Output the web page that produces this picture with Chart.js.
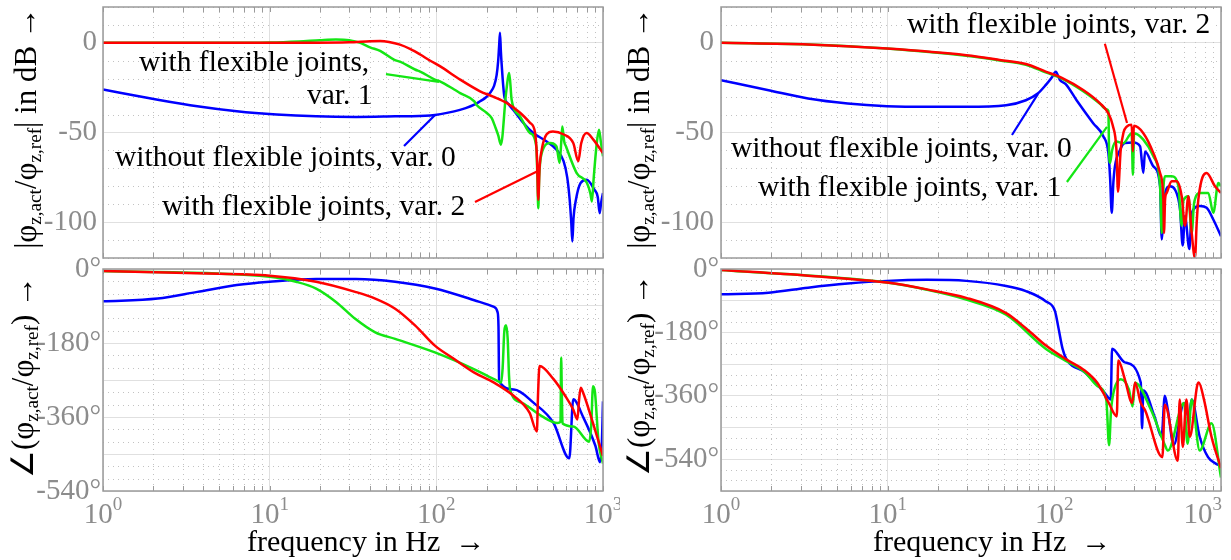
<!DOCTYPE html>
<html>
<head>
<meta charset="utf-8">
<script src="https://cdn.jsdelivr.net/npm/chart.js@4.4.1/dist/chart.umd.min.js"></script>
<style>
  body { margin: 0; background: #fff; }
  #page { position: relative; width: 1231px; height: 560px; overflow: hidden; font-family: 'Liberation Serif', 'Times New Roman', serif; }
  .panel { position: absolute; }
  .txt { position: absolute; white-space: nowrap; line-height: 1; color: #000; }
  .ann { font-size: 29.5px; }
  .ytitle { position: absolute; white-space: nowrap; line-height: 1; font-size: 31px; transform: translate(-50%, -50%) rotate(-90deg); }
  sub { font-size: 0.62em; vertical-align: -0.3em; line-height: 0; }
</style>
</head>
<body>
<div id="page">
  <div class="panel" style="left:0;top:0"><canvas id="tl" width="620" height="262"></canvas></div>
  <div class="panel" style="left:620px;top:0"><canvas id="tr" width="611" height="262"></canvas></div>
  <div class="panel" style="left:0;top:250px"><canvas id="bl" width="620" height="310"></canvas></div>
  <div class="panel" style="left:620px;top:250px"><canvas id="br" width="611" height="310"></canvas></div>

  <div class="ytitle" style="left:25px;top:128px">|φ<sub>z,act</sub>/φ<sub>z,ref</sub>| in dB →</div>
  <div class="ytitle" style="left:638px;top:128px">|φ<sub>z,act</sub>/φ<sub>z,ref</sub>| in dB →</div>
  <div class="ytitle" style="left:22px;top:377px">∠(φ<sub>z,act</sub>/φ<sub>z,ref</sub>) →</div>
  <div class="ytitle" style="left:638px;top:375px">∠(φ<sub>z,act</sub>/φ<sub>z,ref</sub>) →</div>

  <div class="txt" style="left:247px;top:526px;font-size:30px">frequency in Hz&nbsp; →</div>
  <div class="txt" style="left:873px;top:526px;font-size:30px">frequency in Hz&nbsp; →</div>

  <div class="txt ann" style="left:139px;top:47px">with flexible joints,</div>
  <div class="txt ann" style="left:307px;top:80px">var. 1</div>
  <div class="txt ann" style="left:115px;top:142px">without flexible joints, var. 0</div>
  <div class="txt ann" style="left:162px;top:191px">with flexible joints, var. 2</div>

  <div class="txt ann" style="left:903px;top:9px;background:#fff;padding:0 4px">with flexible joints, var. 2</div>
  <div class="txt ann" style="left:731px;top:133px">without flexible joints, var. 0</div>
  <div class="txt ann" style="left:758px;top:172px">with flexible joints, var. 1</div>
</div>
<script>
// magnitude, left system
const magLeftBlueHz = [1, 2.13, 3.68, 6.35, 11, 19, 33, 56.6, 92, 128, 150, 169, 183, 198, 210, 222, 230, 235, 238, 241, 244, 247, 252, 256, 270, 289, 333, 382, 459, 526, 580, 610, 631, 645, 655, 665, 688, 733, 798, 888, 930, 955, 975, 1000];
const magLeftBlueDb = [-26, -31.7, -35.4, -38.2, -40, -41, -41.3, -41, -40.5, -38.2, -36.4, -34.5, -32.6, -30.5, -27.9, -24, -18, -10, -2, 5.6, -5, -13, -24, -30, -34, -37.3, -44.7, -50.3, -55, -59.6, -66, -75, -87.5, -100, -110.8, -98, -87.5, -78.2, -76.3, -81.9, -86, -95, -89, -83.8];
const magLeftGreenHz = [1, 5, 10, 15, 20, 25, 30, 35, 40, 46, 56, 60.5, 75, 80, 98, 105, 128, 139, 169, 174, 200, 215, 225, 235, 244, 262, 274, 283, 318, 365, 398, 404, 409, 414, 429, 482, 526, 549, 562, 570, 585, 600, 695, 800, 840, 858, 880, 920, 946, 970, 1000];
const magLeftGreenDb = [0, 0, 0.2, 0.8, 1.5, 1.9, 1.5, 0, -2.5, -4.5, -9.5, -10.5, -15, -16, -20.5, -21.5, -26, -28, -32.6, -34.5, -39, -42, -46.6, -51.5, -56.8, -28, -16.8, -31.7, -41, -50.3, -57.8, -75, -92.3, -75, -61.5, -55.9, -57.8, -67, -55, -46.6, -55, -57.8, -72.6, -78, -84, -88.5, -75, -55, -48.4, -55, -63.3];
const magLeftRedHz = [1, 10, 30, 40, 46, 52, 60.5, 70, 80, 92, 105, 139, 183, 219, 264, 318, 365, 391, 402, 409, 416, 429, 459, 501, 578, 663, 711, 740, 798, 875, 1000];
const magLeftRedDb = [0, 0, 0.3, 0.9, 1, 0.5, -1, -3.5, -6.5, -10, -13, -20.5, -27, -30, -33.5, -39, -44.6, -50, -65, -87.5, -70, -59.6, -51, -49.4, -51, -55.9, -66, -56, -50.3, -54, -61.5];

// phase, left system
const phaseLeftBlueHz = [1, 2.13, 3.68, 6.35, 10, 19, 33, 56.6, 98, 169, 222, 233, 236, 238, 292, 384, 505, 628, 663, 760, 900, 960, 985, 1000];
const phaseLeftBlueDeg = [-78.5, -72, -55.6, -39, -31, -24.5, -24.5, -31, -47.5, -76, -92.4, -105, -140, -272, -293, -325.6, -374.6, -460.5, -317, -360, -430, -470, -420, -322];
const phaseLeftGreenHz = [1, 10, 14.4, 19, 25, 32.6, 43, 56.6, 98, 169, 232, 245, 250, 256, 262, 268, 273, 278, 326, 429, 533, 556, 561, 566, 572, 663, 826, 850, 871, 895, 940, 1000];
const phaseLeftGreenDeg = [-5, -18.8, -31, -47.5, -80, -121, -154, -170, -203, -244, -272, -276, -240, -150, -137, -170, -260, -296, -325.6, -358, -374.6, -372, -215, -300, -376, -383, -420, -380, -285, -300, -420, -473];
const phaseLeftRedHz = [1, 3.68, 10, 19, 32.6, 43, 56.6, 74.5, 98, 128, 169, 222, 292, 363, 401, 408, 416, 505, 594, 663, 702, 718, 735, 760, 871, 1000];
const phaseLeftRedDeg = [-5, -10.6, -16.4, -31, -55.6, -72, -96.5, -137, -186.5, -219, -252, -276.5, -309, -350, -395, -300, -236, -268, -309, -342, -366, -320, -289, -301, -375, -455];

// magnitude, right system
const magRightBlueHz = [1, 1.93, 3.33, 5.76, 9.9, 17.2, 29.6, 51.4, 67.5, 79.5, 88.7, 97, 102, 108, 117, 136, 171, 197, 211, 216, 221, 226, 231, 248, 265, 298, 327, 342, 350, 393, 431, 441, 455, 494, 530, 568, 589, 608, 646, 667, 748, 820, 899, 1000];
const magRightBlueDb = [-20.8, -26.4, -31, -33.8, -35.3, -35.7, -35.7, -34.8, -32, -28.3, -23.6, -19, -16.1, -20.7, -23, -32, -44.8, -52.2, -61.5, -75, -94.8, -78, -68.9, -59.6, -55.9, -55.6, -57.8, -72.6, -60.6, -68.9, -80, -109.6, -87.4, -80, -81.9, -93, -113, -96.7, -115, -94.8, -91, -92, -98.5, -107.8];
const magRightGreenHz = [1, 3.33, 9.9, 29.6, 47, 67.5, 88.7, 111, 149, 188, 205, 211, 213, 216, 222, 235, 259, 291, 296, 301, 342, 393, 431, 441, 452, 461, 506, 555, 581, 595, 637, 667, 690, 748, 839, 899, 964, 1000];
const magRightGreenDb = [0, -0.9, -3.2, -7.2, -9.8, -12.2, -16.5, -20, -27, -34, -37, -38, -60, -67, -60, -55, -56, -50.4, -73.5, -50.4, -54, -63.3, -80, -106, -80, -74.4, -74.4, -80, -102, -88, -85.6, -106, -89.2, -83.7, -83.7, -94.8, -78.1, -80];
const magRightRedHz = [1, 3.33, 9.9, 29.6, 47, 67.5, 88.7, 111, 149, 188, 211, 224, 236, 241, 250, 260, 272, 291, 296, 300, 342, 393, 431, 451, 455, 462, 472, 506, 542, 581, 608, 637, 667, 698, 715, 731, 820, 920, 1000];
const magRightRedDb = [0, -0.9, -3.2, -6.9, -9.5, -11.8, -16, -19.5, -26.3, -33.7, -39.3, -46, -60, -83, -60, -50, -46.7, -45.7, -60.5, -46.3, -50.4, -61.5, -72.6, -87.4, -106, -87, -83.7, -77.2, -77.2, -85.6, -102, -85.6, -106, -120, -100, -87.4, -72.6, -80, -83.7];

// phase, right system
const phaseRightBlueHz = [1, 1.93, 3.33, 5.76, 9.9, 17.2, 29.6, 51.4, 67.5, 88.7, 101, 106, 112, 118, 153, 200, 218, 222, 265, 330, 336, 342, 400, 440, 460, 480, 520, 600, 640, 667, 745, 836, 935, 1000];
const phaseRightBlueDeg = [-72, -67.4, -53, -41.4, -33.7, -30.8, -33.7, -48, -62.6, -91.4, -120, -168.5, -226, -255, -293.6, -351, -370, -226, -265, -322, -452, -345, -420, -476, -360, -400, -500, -380, -420, -370, -476, -534, -553, -558];
const phaseRightGreenHz = [1, 9.9, 17.2, 29.6, 51.4, 88.7, 116.6, 153, 181, 205, 213, 219, 228, 250, 280, 295, 305, 380, 457, 480, 600, 630, 667, 745, 877, 1000];
const phaseRightGreenDeg = [-3, -38.5, -59, -86.6, -130, -226, -260, -293.6, -332, -372, -500, -400, -345, -313, -342, -390, -322.5, -399.5, -495.7, -515, -380, -495.7, -370.6, -515, -438, -592];
const phaseRightRedHz = [1, 3.33, 9.9, 17.2, 29.6, 51.4, 67.5, 88.7, 116.6, 153, 181, 212, 237, 242, 265, 293, 305, 330, 350, 445, 460, 551, 565, 590, 620, 650, 720, 735, 790, 877, 1000];
const phaseRightRedDeg = [-3, -19, -38.5, -57.8, -81.8, -125, -168, -216.6, -255, -288.8, -322.5, -380, -418, -260, -313, -380, -322, -380, -400, -534, -385, -544, -370, -505, -370, -476, -330, -322, -370, -476, -565];

// tick labels
const magLabels = [0, -50, -100];
const phaseLabels = [0, -180, -360, -540];
const decadeExps = [0, 1, 2, 3];

// leader lines from the notes to the curves (data coordinates)
const blue = '#0000ff', green = '#14e614', red = '#ff0000';
const leadersTopLeft = [
  { color: green, from: [49.9, -17.4], to: [103.7, -21.8] },
  { color: blue, from: [64, -57.5], to: [98.2, -40.2] },
  { color: red, from: [170.6, -88.8], to: [407, -71.5] }
];
const leadersTopRight = [
  { color: red, from: [201, -0.5], to: [273, -44.7] },
  { color: blue, from: [55.7, -51.4], to: [79.8, -28.5] },
  { color: green, from: [119, -77.6], to: [207, -46.9] }
];

const serif = "'Liberation Serif', 'Times New Roman', serif";
const tickGray = '#8c8c8c';

const xTicks = [];
[1, 10, 100].forEach(d => { for (let k = 1; k < 10; k++) xTicks.push(k * d); });
xTicks.push(1000);

function stepTicks(lo, hi, step) {
  const out = [];
  for (let v = lo; v <= hi; v += step) out.push(v);
  return out;
}

function isDecade(v) {
  const l = Math.log10(v);
  return Math.abs(l - Math.round(l)) < 1e-9;
}

const minorGrid = {
  id: 'minorGrid',
  beforeDatasetsDraw(chart, args, opts) {
    const { ctx, chartArea: a } = chart;
    const x = chart.scales.x, y = chart.scales.y;
    ctx.save();
    ctx.strokeStyle = '#c2c2c2';
    ctx.lineWidth = 1;
    ctx.setLineDash([1, 4]);
    x.ticks.forEach(t => {
      if (isDecade(t.value)) return;
      const px = Math.round(x.getPixelForValue(t.value)) + 0.5;
      ctx.beginPath(); ctx.moveTo(px, a.top); ctx.lineTo(px, a.bottom); ctx.stroke();
    });
    y.ticks.forEach(t => {
      if (t.value % opts.yMajor === 0) return;
      const py = Math.round(y.getPixelForValue(t.value)) + 0.5;
      ctx.beginPath(); ctx.moveTo(a.left, py); ctx.lineTo(a.right, py); ctx.stroke();
    });
    ctx.restore();
  }
};

const frame = {
  id: 'frame',
  afterDatasetsDraw(chart) {
    const { ctx, chartArea: a } = chart;
    const x = chart.scales.x;
    ctx.save();
    ctx.strokeStyle = '#9a9a9a';
    ctx.lineWidth = 1.5;
    ctx.strokeRect(a.left, a.top, a.right - a.left, a.bottom - a.top);
    ctx.lineWidth = 1;
    x.ticks.forEach(t => {
      const px = Math.round(x.getPixelForValue(t.value)) + 0.5;
      ctx.beginPath();
      ctx.moveTo(px, a.bottom); ctx.lineTo(px, a.bottom - 5);
      ctx.moveTo(px, a.top); ctx.lineTo(px, a.top + 5);
      ctx.stroke();
    });
    ctx.restore();
  }
};

const leaders = {
  id: 'leaders',
  afterDatasetsDraw(chart, args, opts) {
    if (!opts.lines) return;
    const { ctx } = chart;
    const x = chart.scales.x, y = chart.scales.y;
    ctx.save();
    ctx.lineWidth = 2.2;
    opts.lines.forEach(l => {
      ctx.strokeStyle = l.color;
      ctx.beginPath();
      ctx.moveTo(x.getPixelForValue(l.from[0]), y.getPixelForValue(l.from[1]));
      ctx.lineTo(x.getPixelForValue(l.to[0]), y.getPixelForValue(l.to[1]));
      ctx.stroke();
    });
    ctx.restore();
  }
};

const decadeLabels = {
  id: 'decadeLabels',
  afterDraw(chart, args, opts) {
    if (!opts.show) return;
    const { ctx, chartArea: a } = chart;
    const x = chart.scales.x;
    ctx.save();
    ctx.fillStyle = tickGray;
    ctx.textBaseline = 'alphabetic';
    decadeExps.forEach(e => {
      const px = x.getPixelForValue(Math.pow(10, e));
      ctx.font = '29px ' + serif;
      const wb = ctx.measureText('10').width;
      ctx.font = '19px ' + serif;
      const we = ctx.measureText(String(e)).width;
      let left = px - (wb + we) / 2;
      if (opts.maxRight !== undefined) left = Math.min(left, a.right + opts.maxRight - wb - we);
      ctx.font = '29px ' + serif;
      ctx.fillText('10', left, a.bottom + 32);
      ctx.font = '19px ' + serif;
      ctx.fillText(String(e), left + wb, a.bottom + 19);
    });
    ctx.restore();
  }
};

function series(hz, vals, color) {
  return {
    data: hz.map((f, i) => ({ x: f, y: vals[i] })),
    borderColor: color,
    borderWidth: 2.5,
    pointRadius: 0,
    fill: false,
    cubicInterpolationMode: 'monotone'
  };
}

function panel(id, cfg) {
  return new Chart(document.getElementById(id), {
    type: 'line',
    data: { datasets: cfg.datasets },
    options: {
      responsive: false,
      animation: false,
      layout: { padding: cfg.padding },
      plugins: {
        legend: { display: false },
        tooltip: { enabled: false },
        minorGrid: { yMajor: cfg.yMajor },
        leaders: { lines: cfg.leaders },
        decadeLabels: { show: cfg.xLabels, maxRight: cfg.maxRight }
      },
      scales: {
        x: {
          type: 'logarithmic',
          min: 1,
          max: 1000,
          afterBuildTicks: s => { s.ticks = xTicks.map(v => ({ value: v })); },
          ticks: { display: false, callback: () => '' },
          grid: { drawTicks: false, color: c => (c.tick && isDecade(c.tick.value)) ? '#e0e0e0' : 'rgba(0,0,0,0)' },
          border: { display: false },
          afterFit: s => { s.height = cfg.xHeight; s.paddingLeft = 0; s.paddingRight = 0; }
        },
        y: {
          type: 'linear',
          min: cfg.yMin,
          max: cfg.yMax,
          afterBuildTicks: s => { s.ticks = stepTicks(cfg.yMin, cfg.yMax, cfg.yStep).map(v => ({ value: v })); },
          ticks: {
            autoSkip: false,
            padding: cfg.yPad,
            color: tickGray,
            font: { family: serif, size: 29 },
            callback: v => cfg.yLabels.includes(v) ? String(v) + cfg.unit : ''
          },
          grid: { drawTicks: false, color: c => (c.tick && c.tick.value % cfg.yMajor === 0) ? '#e0e0e0' : 'rgba(0,0,0,0)' },
          border: { display: false },
          afterFit: s => { s.width = cfg.yWidth; s.paddingTop = 0; s.paddingBottom = 0; }
        }
      }
    },
    plugins: [minorGrid, frame, leaders, decadeLabels]
  });
}

const magCommon = { yMin: -120, yMax: 20, yStep: 10, yMajor: 50, yLabels: magLabels, unit: '', yPad: 6, xHeight: 0, xLabels: false };

panel('tl', Object.assign({}, magCommon, {
  datasets: [
    series(magLeftRedHz, magLeftRedDb, red),
    series(magLeftGreenHz, magLeftGreenDb, green),
    series(magLeftBlueHz, magLeftBlueDb, blue)
  ],
  padding: { left: 0, right: 17, top: 7, bottom: 4 },
  yWidth: 103,
  leaders: leadersTopLeft
}));

panel('tr', Object.assign({}, magCommon, {
  datasets: [
    series(magRightRedHz, magRightRedDb, red),
    series(magRightGreenHz, magRightGreenDb, green),
    series(magRightBlueHz, magRightBlueDb, blue)
  ],
  padding: { left: 0, right: 10, top: 7, bottom: 4 },
  yWidth: 101,
  yPad: 7,
  leaders: leadersTopRight
}));

panel('bl', {
  datasets: [
    series(phaseLeftRedHz, phaseLeftRedDeg, red),
    series(phaseLeftGreenHz, phaseLeftGreenDeg, green),
    series(phaseLeftBlueHz, phaseLeftBlueDeg, blue)
  ],
  yMin: -540, yMax: 0, yStep: 30, yMajor: 90, yLabels: phaseLabels, unit: '°', yPad: 2,
  padding: { left: 0, right: 17, top: 19, bottom: 0 },
  xHeight: 69, xLabels: true,
  yWidth: 103
});

panel('br', {
  datasets: [
    series(phaseRightRedHz, phaseRightRedDeg, red),
    series(phaseRightGreenHz, phaseRightGreenDeg, green),
    series(phaseRightBlueHz, phaseRightBlueDeg, blue)
  ],
  yMin: -630, yMax: 0, yStep: 30, yMajor: 90, yLabels: phaseLabels, unit: '°', yPad: 2,
  padding: { left: 0, right: 10, top: 19, bottom: 0 },
  xHeight: 69, xLabels: true, maxRight: 1,
  yWidth: 101
});
</script>
</body>
</html>
